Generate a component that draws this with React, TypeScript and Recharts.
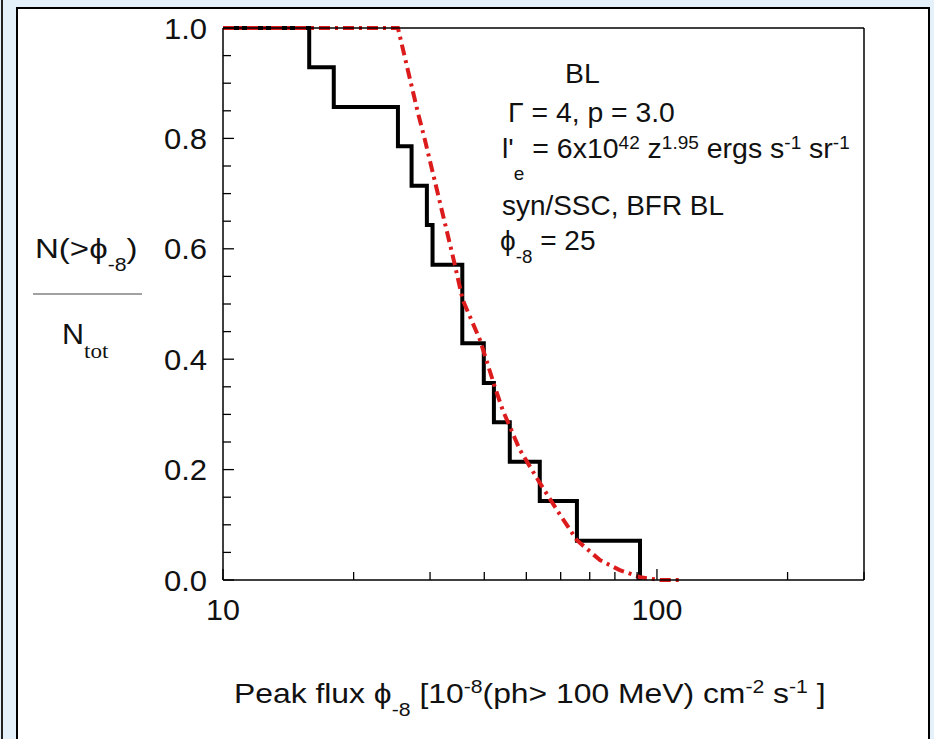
import { LineChart, Line, XAxis, YAxis } from "recharts";

// observed sources: peak flux where the cumulative fraction steps down
const stepFlux = [10, 15.8, 18.0, 25.3, 27.2, 29.5, 30.4, 35.6, 39.9, 42.1, 45.8, 53.7, 65.4, 91.4];
const stepFrac = [1.0, 0.929, 0.857, 0.786, 0.714, 0.643, 0.571, 0.429, 0.357, 0.286, 0.214, 0.143, 0.071, 0.0];

// model curve (red dash-dot)
const modelFlux = [10, 25.3, 28.1, 29.2, 33.8, 35.7, 39.1, 42.3, 44.1, 48.3, 53.7, 58.8, 65.4, 73.9, 82.1, 91.4, 101.6, 113];
const modelFrac = [1.0, 1.0, 0.848, 0.797, 0.589, 0.507, 0.435, 0.35, 0.308, 0.236, 0.176, 0.127, 0.072, 0.036, 0.018, 0.005, 0.0, 0.0];

const xTicks = [10, 20, 30, 40, 50, 60, 70, 80, 90, 100, 200, 300];
const xLabels = [10, 100];
const yTicks = [0, 0.05, 0.1, 0.15, 0.2, 0.25, 0.3, 0.35, 0.4, 0.45, 0.5, 0.55, 0.6, 0.65, 0.7, 0.75, 0.8, 0.85, 0.9, 0.95, 1.0];

const stepData = stepFlux.map((x, i) => ({ x, y: stepFrac[i] }));
const modelData = modelFlux.map((x, i) => ({ x, y: modelFrac[i] }));

const FONT = '"Liberation Sans", Arial, sans-serif';
const SERIF = '"Liberation Serif", "Times New Roman", serif';
const INK = "#111";

const isMajorY = (v: number) => Math.abs(v * 5 - Math.round(v * 5)) < 1e-6;

// text stretched a little horizontally, like the scanned figure
const T = ({ x, y, sx = 1, size = 27, anchor = "start", family = FONT, children }: any) => (
  <text
    transform={`translate(${x} ${y}) scale(${sx} 1)`}
    fontSize={size}
    textAnchor={anchor}
    fontFamily={family}
    fill={INK}
    style={{ whiteSpace: "pre" }}
  >
    {children}
  </text>
);

const BottomTick = (p: any) => {
  const v = p.payload.value;
  const lab = xLabels.includes(v);
  return (
    <g>
      <line x1={p.x} y1={p.y} x2={p.x} y2={p.y - (lab ? 11 : 8)} stroke="#000" strokeWidth={1.3} />
      {lab && (
        <T x={p.x} y={p.y + 40} size={29} sx={1.05} anchor="middle">
          {v}
        </T>
      )}
    </g>
  );
};

const TopTick = (p: any) => {
  const lab = xLabels.includes(p.payload.value);
  return <line x1={p.x} y1={p.y} x2={p.x} y2={p.y + (lab ? 11 : 8)} stroke="#000" strokeWidth={1.3} />;
};

const LeftTick = (p: any) => {
  const v = p.payload.value;
  const major = isMajorY(v);
  return (
    <g>
      <line x1={p.x} y1={p.y} x2={p.x + (major ? 11 : 8)} y2={p.y} stroke="#000" strokeWidth={1.3} />
      {major && (
        <T x={p.x - 16} y={p.y + 10.5} size={29} sx={1.07} anchor="end">
          {v.toFixed(1)}
        </T>
      )}
    </g>
  );
};

const RightTick = (p: any) => {
  const major = isMajorY(p.payload.value);
  return <line x1={p.x} y1={p.y} x2={p.x - (major ? 11 : 8)} y2={p.y} stroke="#000" strokeWidth={1.3} />;
};

const sub = 18;

export default function App() {
  return (
    <div
      style={{
        position: "fixed",
        left: 0,
        top: 0,
        width: 934,
        height: 739,
        background: "#e4f1fb",
        overflow: "hidden",
        fontFamily: FONT,
      }}
    >
      <div style={{ position: "absolute", left: 1, top: 0, width: 2, height: 739, background: "#222" }} />
      <div
        style={{
          position: "absolute",
          left: 16,
          top: 7,
          width: 914,
          height: 760,
          background: "#fff",
          border: "2px solid #000",
          boxSizing: "border-box",
        }}
      />
      <div style={{ position: "absolute", left: 0, top: 0 }}>
        <LineChart width={934} height={739} margin={{ top: 27, right: 69, bottom: 119, left: 163 }}>
          <XAxis
            xAxisId="bottom"
            dataKey="x"
            type="number"
            scale="log"
            domain={[10, 300]}
            ticks={xTicks}
            interval={0}
            height={40}
            tickSize={0}
            tickMargin={0}
            tickLine={false}
            axisLine={{ stroke: "#000", strokeWidth: 1.5 }}
            tick={(p: any) => <BottomTick {...p} />}
          />
          <XAxis
            xAxisId="top"
            orientation="top"
            dataKey="x"
            type="number"
            scale="log"
            domain={[10, 300]}
            ticks={xTicks}
            interval={0}
            height={1}
            tickSize={0}
            tickMargin={0}
            tickLine={false}
            axisLine={{ stroke: "#000", strokeWidth: 1.5 }}
            tick={(p: any) => <TopTick {...p} />}
          />
          <YAxis
            yAxisId="left"
            type="number"
            domain={[0, 1]}
            ticks={yTicks}
            interval={0}
            width={60}
            tickSize={0}
            tickMargin={0}
            tickLine={false}
            axisLine={{ stroke: "#000", strokeWidth: 1.5 }}
            tick={(p: any) => <LeftTick {...p} />}
          />
          <YAxis
            yAxisId="right"
            orientation="right"
            type="number"
            domain={[0, 1]}
            ticks={yTicks}
            interval={0}
            width={1}
            tickSize={0}
            tickMargin={0}
            tickLine={false}
            axisLine={{ stroke: "#000", strokeWidth: 1.5 }}
            tick={(p: any) => <RightTick {...p} />}
          />
          <Line
            xAxisId="bottom"
            yAxisId="left"
            data={stepData}
            dataKey="y"
            type="stepAfter"
            stroke="#000"
            strokeWidth={4}
            dot={false}
            isAnimationActive={false}
          />
          <Line
            xAxisId="bottom"
            yAxisId="left"
            data={modelData}
            dataKey="y"
            type="linear"
            stroke="#dc1c1c"
            strokeWidth={4}
            strokeDasharray="11 5 3 5"
            dot={false}
            isAnimationActive={false}
          />
        </LineChart>
      </div>
      <svg
        width={934}
        height={739}
        style={{ position: "absolute", left: 0, top: 0, pointerEvents: "none" }}
      >
        <T x={565} y={83} sx={1.05}>BL</T>
        <T x={508} y={122} sx={1.05}>Γ = 4, p = 3.0</T>
        <T x={502} y={158} sx={1.055}>
          l'
          <tspan fontSize={sub} dy={22}>e</tspan>
          <tspan dy={-22}> = 6x10</tspan>
          <tspan fontSize={sub} dy={-9}>42</tspan>
          <tspan dy={9}> z</tspan>
          <tspan fontSize={sub} dy={-9}>1.95</tspan>
          <tspan dy={9}> ergs s</tspan>
          <tspan fontSize={sub} dy={-9}>-1</tspan>
          <tspan dy={9}> sr</tspan>
          <tspan fontSize={sub} dy={-9}>-1</tspan>
        </T>
        <T x={502} y={215} sx={1.035}>syn/SSC, BFR BL</T>
        <T x={500} y={250} sx={1.04}>
          ϕ<tspan fontSize={sub} dy={13}>-8</tspan>
          <tspan dy={-13}> = 25</tspan>
        </T>

        <T x={35} y={258} size={28} sx={1.18}>
          N(&gt;ϕ<tspan fontSize={sub} dy={13}>-8</tspan>
          <tspan dy={-13}>)</tspan>
        </T>
        <line x1={33} x2={142} y1={294} y2={294} stroke="#444" strokeWidth={1} />
        <T x={62} y={344} size={29} sx={1.05}>
          N<tspan fontSize={22} fontFamily={SERIF} dy={14}>tot</tspan>
        </T>

        <T x={234} y={703} sx={1.18}>
          Peak flux ϕ<tspan fontSize={sub} dy={13}>-8</tspan>
          <tspan dy={-13}> [10</tspan>
          <tspan fontSize={sub} dy={-10}>-8</tspan>
          <tspan dy={10}>(ph&gt; 100 MeV) cm</tspan>
          <tspan fontSize={sub} dy={-10}>-2</tspan>
          <tspan dy={10}> s</tspan>
          <tspan fontSize={sub} dy={-10}>-1</tspan>
          <tspan dy={10}> ]</tspan>
        </T>
      </svg>
    </div>
  );
}
